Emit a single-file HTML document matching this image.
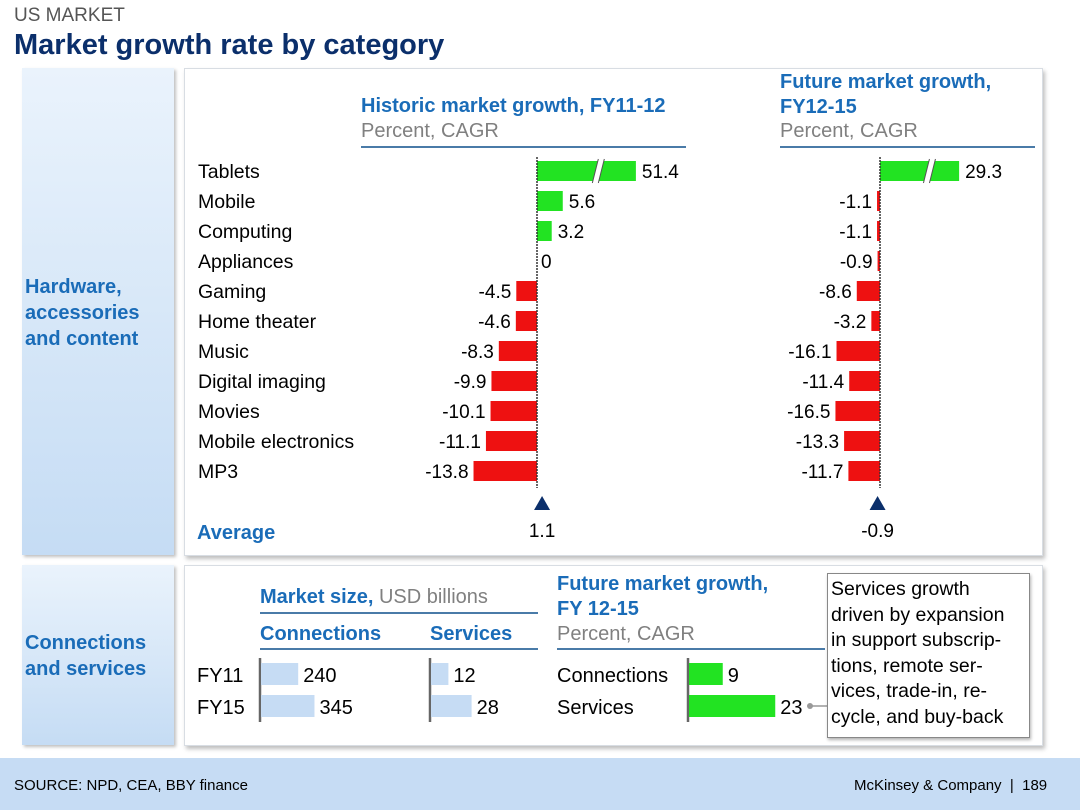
<!DOCTYPE html>
<html><head><meta charset="utf-8"><style>
body{margin:0;width:1080px;height:810px;background:#fff;font-family:"Liberation Sans",sans-serif;position:relative;overflow:hidden}
.a{position:absolute;white-space:nowrap}
.blue{color:#1a6cb8;font-weight:bold}
.gray{color:#808080}
.box{position:absolute;background:#fff;border:1px solid #d8dde3;box-shadow:2px 3px 4px rgba(0,0,0,0.25)}
.side{position:absolute;background:linear-gradient(#eaf3fc,#c5dcf4);box-shadow:2px 2px 3px rgba(0,0,0,0.25)}
.hr{position:absolute;height:2px;background:#4a7ba8}
</style></head><body>
<div class="a" style="left:14px;top:5px;font-size:19px;color:#555">US MARKET</div>
<div class="a" style="left:14px;top:29px;font-size:29px;font-weight:bold;color:#0b2f6b">Market growth rate by category</div>

<div class="side" style="left:22px;top:68px;width:152px;height:487px"></div>
<div class="a blue" style="left:25px;top:274px;font-size:20px;line-height:26px">Hardware,<br>accessories<br>and content</div>
<div class="box" style="left:184px;top:68px;width:857px;height:486px"></div>

<div class="side" style="left:22px;top:565px;width:152px;height:180px"></div>
<div class="a blue" style="left:25px;top:630px;font-size:20px;line-height:26px">Connections<br>and services</div>
<div class="box" style="left:184px;top:565px;width:857px;height:179px"></div>

<div class="a blue" style="left:361px;top:95px;font-size:20px">Historic market growth, FY11-12</div>
<div class="a gray" style="left:361px;top:120px;font-size:20px">Percent, CAGR</div>
<div class="hr" style="left:361px;top:146px;width:325px"></div>
<div class="a blue" style="left:780px;top:70px;font-size:20px;line-height:25px">Future market growth,<br>FY12-15</div>
<div class="a gray" style="left:780px;top:120px;font-size:20px">Percent, CAGR</div>
<div class="hr" style="left:780px;top:146px;width:255px"></div>
<div class="a blue" style="left:197px;top:522px;font-size:20px">Average</div>

<svg id="top" class="a" style="left:0;top:0" width="1080" height="810"></svg>

<div class="a blue" style="left:260px;top:586px;font-size:20px">Market size, <span style="font-weight:normal;color:#808080">USD billions</span></div>
<div class="hr" style="left:260px;top:612px;width:278px"></div>
<div class="a blue" style="left:260px;top:623px;font-size:20px">Connections</div>
<div class="a blue" style="left:430px;top:623px;font-size:20px">Services</div>
<div class="hr" style="left:260px;top:648px;width:278px"></div>
<div class="a blue" style="left:557px;top:572px;font-size:20px;line-height:25px">Future market growth,<br>FY 12-15</div>
<div class="a gray" style="left:557px;top:623px;font-size:20px">Percent, CAGR</div>
<div class="hr" style="left:557px;top:648px;width:268px"></div>
<div class="a" style="left:827px;top:573px;width:198px;height:160px;border:1px solid #888;background:#fff;font-size:19.5px;line-height:25.5px;padding:3px 0 0 3px;box-shadow:1px 2px 3px rgba(0,0,0,0.3)">Services growth<br>driven by expansion<br>in support subscrip-<br>tions, remote ser-<br>vices, trade-in, re-<br>cycle, and buy-back</div>

<div class="a" style="left:0;top:758px;width:1080px;height:52px;background:#c6dcf4"></div>
<div class="a" style="left:14px;top:777px;font-size:15px">SOURCE: NPD, CEA, BBY finance</div>
<div class="a" style="left:854px;top:777px;font-size:15px">McKinsey &amp; Company &nbsp;|&nbsp; 189</div>

<script>
const categories=["Tablets","Mobile","Computing","Appliances","Gaming","Home theater","Music","Digital imaging","Movies","Mobile electronics","MP3"];
const historic=[51.4,5.6,3.2,0,-4.5,-4.6,-8.3,-9.9,-10.1,-11.1,-13.8];
const future=[29.3,-1.1,-1.1,-0.9,-8.6,-3.2,-16.1,-11.4,-16.5,-13.3,-11.7];
const averages=[1.1,-0.9];
const sizeYears=["FY11","FY15"];
const connSize=[240,345];
const servSize=[12,28];
const futureServLabels=["Connections","Services"];
const futureServ=[9,23];

const NS="http://www.w3.org/2000/svg";
const svg=document.getElementById('top');
function mk(tag,at,txt){const e=document.createElementNS(NS,tag);for(const k in at)e.setAttribute(k,at[k]);if(txt!==undefined)e.textContent=txt;svg.appendChild(e);return e;}
const rowY=i=>171+i*30;
function drawCol(vals,axisX,scale,cap,breakAt,name,avg){
  const x=v=>axisX+Math.max(-cap,Math.min(cap,v))*scale;
  vals.forEach((v,i)=>{
    const y=rowY(i);const broken=v>breakAt;
    const x0=Math.min(x(0),x(v)),w=Math.abs(x(v)-x(0));
    if(w>0){const b=mk('rect',{x:x0,y:y-10,width:w,height:20,fill:v>=0?'#22e322':'#ee1111'});
      
      
      if(broken){const mx=x0+w*0.6;mk('polygon',{points:`${mx-4},${y+12} ${mx+2},${y-12} ${mx+8},${y-12} ${mx+2},${y+12}`,fill:'#fff'});
        mk('line',{x1:mx-4,y1:y+12,x2:mx+2,y2:y-12,stroke:'#555'});mk('line',{x1:mx+2,y1:y+12,x2:mx+8,y2:y-12,stroke:'#555'});}}
    const lbl=mk('text',{x:v>=0?x(v)+(w>0?6:4):x(v)-5,y:y+7,'font-size':19,'text-anchor':v>=0?'start':'end','font-family':'Liberation Sans'},String(v));
    
    
  });
  mk('line',{x1:axisX,y1:157,x2:axisX,y2:488,stroke:'#333','stroke-width':1.5,'stroke-dasharray':'2,1'});
  const ax=x(avg);
  const tri=mk('polygon',{points:`${ax-8},${510} ${ax+8},${510} ${ax},${496}`,fill:'#0b2f6b'});
  
  
  mk('text',{x:ax,y:537,'font-size':19,'text-anchor':'middle','font-family':'Liberation Sans'},String(avg));
}
categories.forEach((c,i)=>{const t=mk('text',{x:198,y:rowY(i)+7,'font-size':19.5,'font-family':'Liberation Sans'},c);
  
  });
drawCol(historic,537,4.6,21.5,21.5,'historic',averages[0]);
drawCol(future,880,2.7,30,25,'future',averages[1]);

const by=i=>674+i*32;
function hbar(vals,axisX,scale,color,name){
  mk('line',{x1:axisX,y1:by(0)-16,x2:axisX,y2:by(1)+16,stroke:'#666','stroke-width':2.5});
  vals.forEach((v,i)=>{const w=v*scale;
    const r=mk('rect',{x:axisX+1,y:by(i)-11,width:w,height:22,fill:color});
    
    
    mk('text',{x:axisX+w+6,y:by(i)+8,'font-size':20,'font-family':'Liberation Sans'},String(v));});
}
sizeYears.forEach((s,i)=>{const t=mk('text',{x:197,y:by(i)+8,'font-size':20,'font-family':'Liberation Sans'},s);
  
  });
futureServLabels.forEach((s,i)=>{const t=mk('text',{x:557,y:by(i)+8,'font-size':20,'font-family':'Liberation Sans'},s);
  
  });
hbar(connSize,260,0.155,'#c6dcf4','connections-size');
hbar(servSize,430,1.45,'#c6dcf4','services-size');
hbar(futureServ,688,3.75,'#22e322','future-services');
mk('line',{x1:810,y1:by(1),x2:827,y2:by(1),stroke:'#999','stroke-width':1.5});
mk('circle',{cx:810,cy:by(1),r:3,fill:'#999'});
</script>
</body></html>
